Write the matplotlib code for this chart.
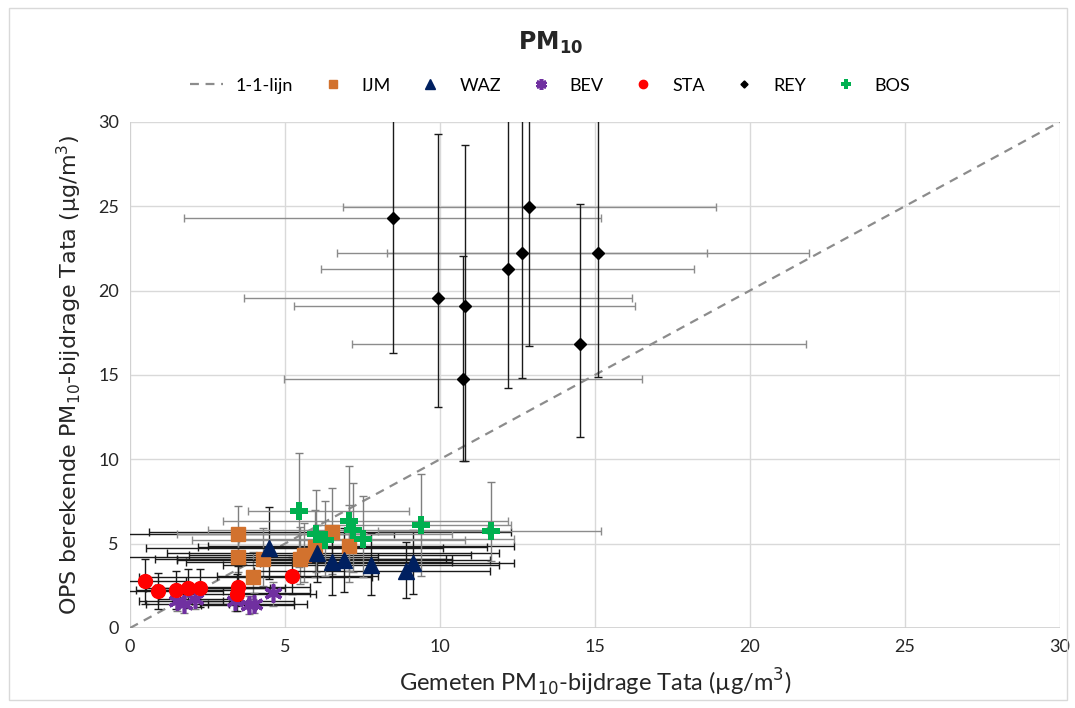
import matplotlib
matplotlib.use("Agg")
import matplotlib.pyplot as plt
from matplotlib.patches import Rectangle

plt.rcParams['font.family'] = ['Lato', 'DejaVu Sans']

# ---- data ----
# each series: x, y, and lower/upper ends of the error bars
ijm_x = [3.47, 3.47, 3.95, 4.30, 5.48, 5.60, 5.97, 6.50, 7.07]
ijm_y = [5.55, 4.19, 3.04, 4.09, 4.10, 4.35, 4.82, 5.71, 4.86]
ijm_xlo = [-1.0, -1.0, 0.3, 0.8, 1.5, 1.9, 2.2, 0.6, 2.5]
ijm_xhi = [8.5, 8.0, 7.8, 10.4, 10.2, 11.0, 11.5, 12.3, 12.4]
ijm_ylo = [3.3, 2.3, 1.7, 2.5, 2.6, 2.7, 3.0, 3.2, 2.7]
ijm_yhi = [7.25, 5.9, 4.5, 5.9, 6.0, 6.2, 7.0, 8.3, 7.3]

waz_x = [4.48, 6.04, 6.50, 6.91, 7.78, 8.90, 9.14]
waz_y = [4.72, 4.43, 3.90, 4.05, 3.73, 3.40, 3.83]
waz_xlo = [0.5, 1.2, 1.8, 1.5, 3.0, 4.0, 4.2]
waz_xhi = [10.1, 11.9, 10.4, 11.6, 11.9, 11.6, 12.4]
waz_ylo = [2.9, 2.7, 1.96, 2.15, 1.96, 1.76, 2.0]
waz_yhi = [7.2, 6.1, 5.5, 5.9, 5.65, 5.12, 5.8]

bev_x = [1.50, 1.75, 2.10, 3.40, 3.85, 4.00, 4.62]
bev_y = [1.62, 1.42, 1.72, 1.62, 1.38, 1.45, 2.05]
bev_xlo = [0.3, 0.5, 0.9, 2.0, 2.3, 2.5, 3.4]
bev_xhi = [3.0, 3.2, 3.6, 5.3, 5.3, 5.7, 5.8]
bev_ylo = [1.0, 0.9, 1.1, 1.0, 0.8, 0.9, 1.3]
bev_yhi = [2.2, 2.0, 2.4, 2.3, 1.9, 2.1, 2.7]

sta_x = [0.48, 0.89, 1.48, 1.88, 2.26, 3.49, 3.44, 5.21]
sta_y = [2.79, 2.21, 2.25, 2.35, 2.39, 2.45, 2.02, 3.10]
sta_xlo = [-0.5, -0.5, 0.2, 0.5, 0.8, 1.5, 1.6, 2.8]
sta_xhi = [1.8, 3.0, 3.5, 4.5, 5.0, 5.8, 6.0, 8.0]
sta_ylo = [1.42, 1.13, 1.15, 1.2, 1.25, 1.3, 1.0, 2.0]
sta_yhi = [4.09, 3.28, 3.40, 3.48, 3.51, 3.7, 3.2, 4.2]

rey_x = [8.49, 12.86, 12.65, 15.10, 12.18, 9.95, 10.80, 14.50, 10.73]
rey_y = [24.32, 24.93, 22.20, 22.22, 21.28, 19.58, 19.09, 16.82, 14.74]
rey_xlo = [1.75, 6.86, 8.30, 6.68, 6.16, 3.66, 5.30, 7.15, 4.98]
rey_xhi = [15.2, 18.9, 18.6, 21.9, 18.2, 16.2, 16.3, 21.8, 16.5]
rey_ylo = [16.3, 16.7, 14.8, 14.9, 14.25, 13.1, 9.9, 11.3, 9.9]
rey_yhi = [35.0, 35.0, 35.0, 35.0, 35.0, 29.3, 28.6, 25.1, 22.05]

bos_x = [5.46, 6.00, 6.29, 7.06, 7.20, 7.50, 9.38, 11.63]
bos_y = [6.95, 5.55, 5.24, 6.36, 5.80, 5.26, 6.10, 5.77]
bos_xlo = [3.8, 1.5, 2.0, 3.0, 2.5, 3.5, 6.0, 8.0]
bos_xhi = [9.0, 10.4, 10.8, 12.2, 11.5, 12.4, 12.3, 15.2]
bos_ylo = [3.6, 3.3, 3.1, 3.4, 3.3, 3.0, 3.1, 4.0]
bos_yhi = [10.4, 8.2, 7.5, 9.6, 8.6, 7.8, 9.1, 8.67]


def err(vals, lo, hi):
    # convert lower/upper ends into the (minus, plus) form errorbar wants
    minus = [v - l for v, l in zip(vals, lo)]
    plus = [h - v for v, h in zip(vals, hi)]
    return [minus, plus]


fig = plt.figure(figsize=(10.75, 7.08), dpi=100)
ax = fig.add_axes([0.121, 0.113, 0.865, 0.715])

# 1-1 line
ax.plot([0, 30], [0, 30], ls=(0, (4, 3)), color='#8c8c8c', lw=1.6,
        label='1-1-lijn', zorder=2)

series = [
    ('IJM', ijm_x, ijm_y, ijm_xlo, ijm_xhi, ijm_ylo, ijm_yhi,
     dict(marker='s', color='#D2722E', ms=10), '#1a1a1a', '#7f7f7f'),
    ('WAZ', waz_x, waz_y, waz_xlo, waz_xhi, waz_ylo, waz_yhi,
     dict(marker='^', color='#002060', ms=12), '#1a1a1a', '#1a1a1a'),
    ('BEV', bev_x, bev_y, bev_xlo, bev_xhi, bev_ylo, bev_yhi,
     dict(marker=(6, 2, 0), color='#7030A0', ms=13, mew=2.6), '#1a1a1a', '#7f7f7f'),
    ('STA', sta_x, sta_y, sta_xlo, sta_xhi, sta_ylo, sta_yhi,
     dict(marker='o', color='#FF0000', ms=10), '#1a1a1a', '#1a1a1a'),
    ('REY', rey_x, rey_y, rey_xlo, rey_xhi, rey_ylo, rey_yhi,
     dict(marker='D', color='#000000', ms=6), '#8c8c8c', '#1a1a1a'),
    ('BOS', bos_x, bos_y, bos_xlo, bos_xhi, bos_ylo, bos_yhi,
     dict(marker='P', color='#00B050', ms=13, mew=0), '#8c8c8c', '#7f7f7f'),
]

for name, x, y, xlo, xhi, ylo, yhi, mstyle, xcol, ycol in series:
    ax.errorbar(x, y, xerr=err(x, xlo, xhi), fmt='none', ecolor=xcol,
                elinewidth=1.0, capsize=3, capthick=1.0, zorder=3)
    ax.errorbar(x, y, yerr=err(y, ylo, yhi), fmt='none', ecolor=ycol,
                elinewidth=1.0, capsize=3, capthick=1.0, zorder=3)
    ax.plot(x, y, ls='none', label=name, zorder=5, **mstyle)

ax.set_xlim(0, 30)
ax.set_ylim(0, 30)
ax.set_xticks(range(0, 31, 5))
ax.set_yticks(range(0, 31, 5))
ax.grid(True, color='#d9d9d9', lw=1.0)
ax.set_axisbelow(True)
for s in ax.spines.values():
    s.set_visible(False)
ax.axhline(0, color='#d0d0d0', lw=1.2, zorder=1)
ax.axvline(0, color='#d0d0d0', lw=1.2, zorder=1)
ax.tick_params(length=0, labelsize=13, colors='#262626', pad=8)

ax.set_xlabel('Gemeten PM$_{10}$-bijdrage Tata (µg/m$^3$)', fontsize=17,
              color='#262626', labelpad=8)
ax.set_ylabel('OPS berekende PM$_{10}$-bijdrage Tata (µg/m$^3$)', fontsize=16,
              color='#262626', family=['DejaVu Sans'], labelpad=10)

fig.text(0.512, 0.94, 'PM$_{\\mathbf{10}}$', ha='center', va='center', fontsize=17,
         fontweight='bold', color='#262626', family=['DejaVu Sans'])

fig.legend(loc='center', bbox_to_anchor=(0.512, 0.879), ncol=7, frameon=False,
           fontsize=13, markerscale=0.6, handlelength=1.8, columnspacing=1.3,
           handletextpad=0.7)

# outer chart border
fig.patches.append(Rectangle((0.008, 0.012), 0.985, 0.976, transform=fig.transFigure,
                             fill=False, edgecolor='#d9d9d9', lw=1.0))

fig.savefig('out.png', dpi=100)
